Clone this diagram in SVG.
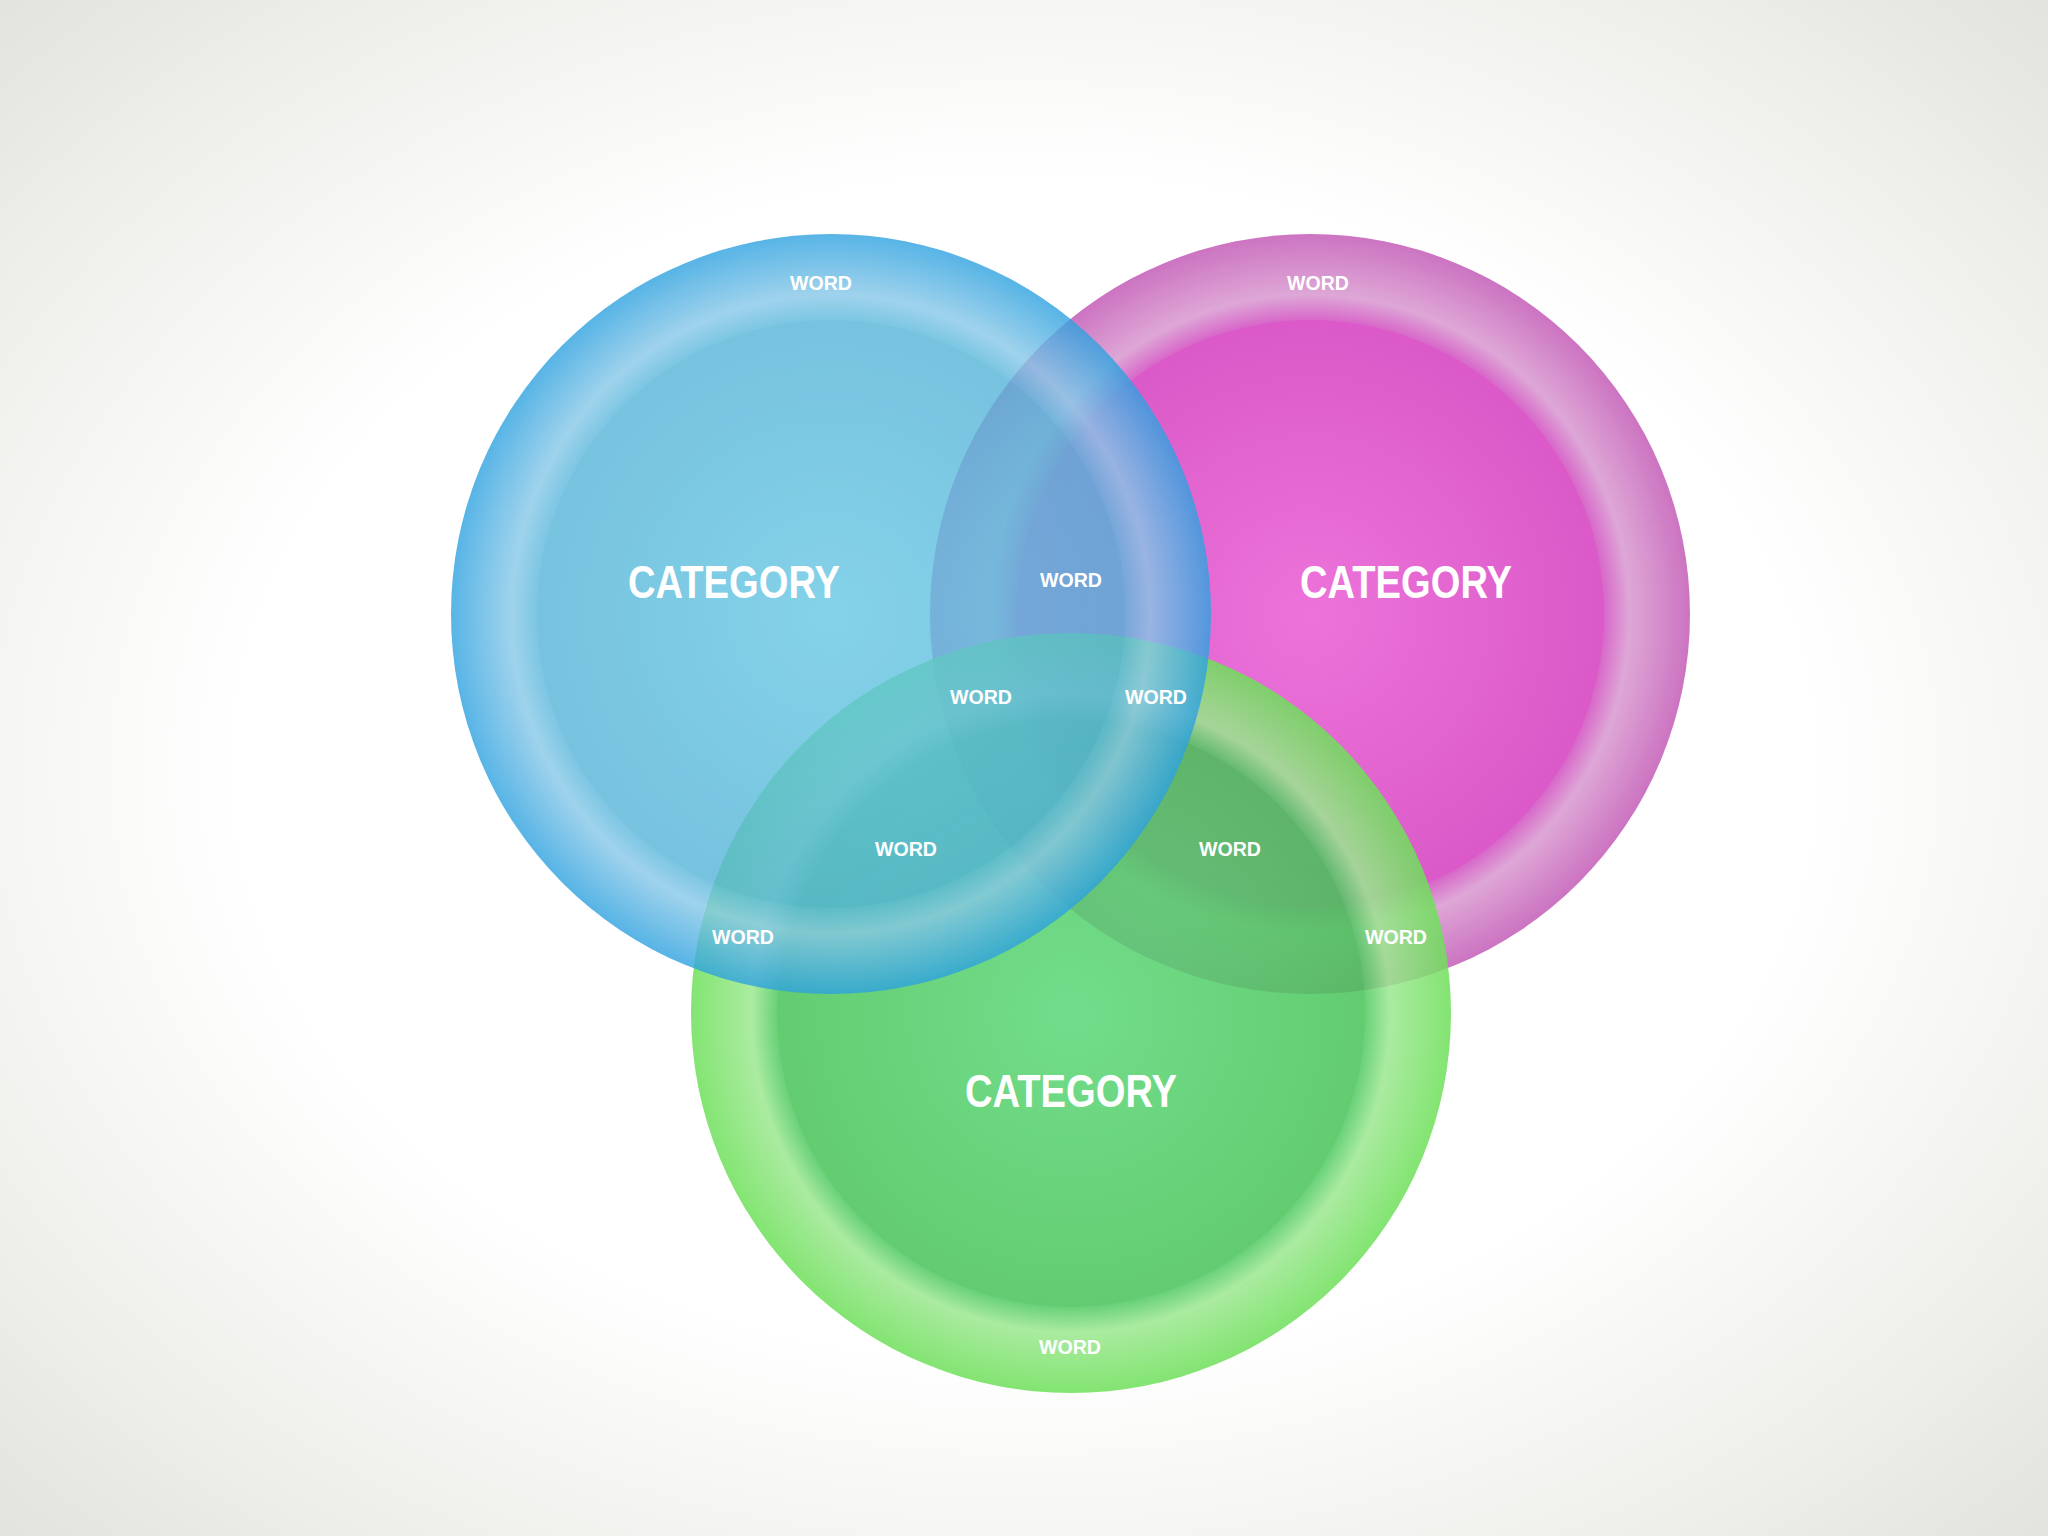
<svg xmlns="http://www.w3.org/2000/svg" width="2048" height="1536" viewBox="0 0 2048 1536">
<defs>
<radialGradient id="bg" cx="50%" cy="50%" r="70%"><stop offset="0.55" stop-color="#ffffff"/><stop offset="1" stop-color="#e4e4de"/></radialGradient>
<radialGradient id="gb"><stop offset="0.77" stop-color="#5ab8dc"/><stop offset="0.84" stop-color="#88c8e8"/><stop offset="1" stop-color="#2ea2e0"/></radialGradient>
<radialGradient id="gbi"><stop offset="0" stop-color="#66c8e4"/><stop offset="1" stop-color="#55b4d8"/></radialGradient>
<radialGradient id="gm"><stop offset="0.77" stop-color="#d458c4"/><stop offset="0.84" stop-color="#dca0d4"/><stop offset="1" stop-color="#c868bc"/></radialGradient>
<radialGradient id="gmi"><stop offset="0" stop-color="#ec68d8"/><stop offset="1" stop-color="#d84cc4"/></radialGradient>
<radialGradient id="gg"><stop offset="0.77" stop-color="#4cc860"/><stop offset="0.84" stop-color="#9ce890"/><stop offset="1" stop-color="#6ee05a"/></radialGradient>
<radialGradient id="ggi"><stop offset="0" stop-color="#5ad878"/><stop offset="1" stop-color="#48c458"/></radialGradient>
<style>
.w{font-family:"Liberation Sans",Arial,sans-serif;font-weight:bold;fill:#fff;font-size:21px;text-anchor:middle}
.c{font-family:"Liberation Sans",Arial,sans-serif;font-weight:bold;fill:#fff;font-size:46px;text-anchor:middle}
</style>
</defs>
<rect width="2048" height="1536" fill="url(#bg)"/>
<g id="magenta" opacity="0.92"><circle cx="1310" cy="614" r="380" fill="url(#gm)"/><circle cx="1310" cy="614" r="294" fill="url(#gmi)"/></g>
<g id="green" opacity="0.85"><circle cx="1071" cy="1013" r="380" fill="url(#gg)"/><circle cx="1071" cy="1013" r="294" fill="url(#ggi)"/></g>
<g id="blue" opacity="0.8"><circle cx="831" cy="614" r="380" fill="url(#gb)"/><circle cx="831" cy="614" r="294" fill="url(#gbi)"/></g>
<g id="labels">
<text class="c" x="734" y="598" textLength="212" lengthAdjust="spacingAndGlyphs">CATEGORY</text>
<text class="c" x="1406" y="598" textLength="212" lengthAdjust="spacingAndGlyphs">CATEGORY</text>
<text class="c" x="1071" y="1107" textLength="212" lengthAdjust="spacingAndGlyphs">CATEGORY</text>
<text class="w" x="821" y="290" textLength="62" lengthAdjust="spacingAndGlyphs">WORD</text>
<text class="w" x="1318" y="290" textLength="62" lengthAdjust="spacingAndGlyphs">WORD</text>
<text class="w" x="1071" y="587" textLength="62" lengthAdjust="spacingAndGlyphs">WORD</text>
<text class="w" x="981" y="704" textLength="62" lengthAdjust="spacingAndGlyphs">WORD</text>
<text class="w" x="1156" y="704" textLength="62" lengthAdjust="spacingAndGlyphs">WORD</text>
<text class="w" x="906" y="856" textLength="62" lengthAdjust="spacingAndGlyphs">WORD</text>
<text class="w" x="1230" y="856" textLength="62" lengthAdjust="spacingAndGlyphs">WORD</text>
<text class="w" x="743" y="944" textLength="62" lengthAdjust="spacingAndGlyphs">WORD</text>
<text class="w" x="1396" y="944" textLength="62" lengthAdjust="spacingAndGlyphs">WORD</text>
<text class="w" x="1070" y="1354" textLength="62" lengthAdjust="spacingAndGlyphs">WORD</text>
</g>
</svg>
